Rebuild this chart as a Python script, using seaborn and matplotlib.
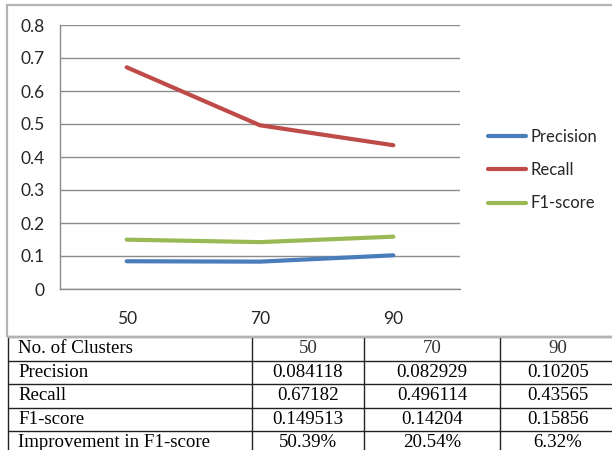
import matplotlib
matplotlib.use("Agg")
import matplotlib.pyplot as plt
from matplotlib.patches import Rectangle
from matplotlib.ticker import FixedLocator, FuncFormatter
import pandas as pd
import seaborn as sns

# ---- data ----
clusters = [50, 70, 90]
precision = [0.084118, 0.082929, 0.10205]
recall = [0.67182, 0.496114, 0.43565]
f1_score = [0.149513, 0.14204, 0.15856]
improvement = ["50.39%", "20.54%", "6.32%"]
metric_names = ["Precision", "Recall", "F1-score"]
metric_colors = ["#4A7EBB", "#BE4B48", "#98B954"]
y_ticks = [0, 0.1, 0.2, 0.3, 0.4, 0.5, 0.6, 0.7, 0.8]

df = pd.DataFrame({
    "clusters": clusters * 3,
    "value": precision + recall + f1_score,
    "metric": [m for m in metric_names for _ in clusters],
})

sns.set_style("white")
plt.rcParams["font.family"] = ["Lato", "DejaVu Sans"]

W, H = 612, 450
fig = plt.figure(figsize=(W / 100, H / 100), dpi=100)
fig.patch.set_facecolor("white")

def fx(px):
    return px / W

def fy(py):
    return 1 - py / H

# chart frame
fig.patches.append(Rectangle((fx(7), fy(337)), fx(620) - fx(7), fy(4.5) - fy(337),
                             transform=fig.transFigure, fill=False,
                             edgecolor="#b3b3b3", linewidth=1.6, zorder=0))

# ---- line chart ----
ax = fig.add_axes([fx(60), fy(289), fx(460) - fx(60), fy(25) - fy(289)])
sns.lineplot(data=df, x="clusters", y="value", hue="metric",
             hue_order=metric_names, palette=metric_colors,
             linewidth=3.0, legend=False, ax=ax)
for ln in ax.get_lines():
    ln.set_solid_capstyle("round")
    ln.set_solid_joinstyle("round")

ax.set_xlim(40, 100)
ax.set_ylim(0, 0.8)
ax.set_xlabel("")
ax.set_ylabel("")
ax.set_yticks(y_ticks)
ax.yaxis.set_major_formatter(FuncFormatter(lambda v, p: "0" if v == 0 else f"{v:.1f}"))
ax.grid(axis="y", color="#8c8c8c", linewidth=1.0)
ax.grid(axis="x", visible=False)
ax.set_axisbelow(True)

# category boundaries carry tick marks, labels sit between them
ax.xaxis.set_major_locator(FixedLocator([40, 60, 80, 100]))
ax.xaxis.set_major_formatter(FuncFormatter(lambda v, p: ""))
ax.xaxis.set_minor_locator(FixedLocator(clusters))
ax.xaxis.set_minor_formatter(FuncFormatter(lambda v, p: f"{int(v)}"))
ax.tick_params(axis="x", which="major", length=5, width=1, color="#8c8c8c", direction="out")
ax.tick_params(axis="x", which="minor", length=0, pad=16, labelsize=12.5)
ax.tick_params(axis="y", which="major", length=5, width=1, color="#8c8c8c",
               direction="out", pad=6, labelsize=12.5)

for s in ["top", "right"]:
    ax.spines[s].set_visible(False)
for s in ["left", "bottom"]:
    ax.spines[s].set_color("#8c8c8c")
    ax.spines[s].set_linewidth(1.0)

handles = ax.get_lines()[:3]
leg = fig.legend(handles, metric_names, loc="center left",
                 bbox_to_anchor=(fx(488), fy(170)), bbox_transform=fig.transFigure,
                 frameon=False, fontsize=12, handlelength=2.25, handletextpad=0.3,
                 labelspacing=1.05, borderpad=0, borderaxespad=0)

# ---- results table ----
tab = fig.add_axes([0, 0, 1, 1], facecolor="none")
tab.set_xlim(0, W)
tab.set_ylim(H, 0)
tab.axis("off")

col_edges = [8, 252, 364, 500, 616]
row_top = 337
row_h = 23.5
rows = [["No. of Clusters"] + [str(c) for c in clusters],
        ["Precision"] + [f"{v:g}" for v in precision],
        ["Recall"] + [f"{v:g}" for v in recall],
        ["F1-score"] + [f"{v:g}" for v in f1_score],
        ["Improvement in F1-score"] + improvement]
rows[1][1] = "0.084118"

n_rows = len(rows)
for i in range(n_rows + 1):
    y = row_top + i * row_h
    tab.plot([col_edges[0], col_edges[-1]], [y, y], color="#222222",
             linewidth=1.6 if i == 0 else 1.0, solid_capstyle="butt")
for x in col_edges:
    tab.plot([x, x], [row_top, row_top + n_rows * row_h], color="#222222",
             linewidth=1.0, solid_capstyle="butt")

for i, r in enumerate(rows):
    yc = row_top + (i + 0.5) * row_h
    tab.text(col_edges[0] + 10, yc, r[0], ha="left", va="center",
             family="Liberation Serif", fontsize=13.6, color="black")
    for j in range(1, 4):
        xc = (col_edges[j] + col_edges[j + 1]) / 2
        tab.text(xc, yc, r[j], ha="center", va="center",
                 family="Liberation Serif", fontsize=13.6,
                 color="#333333" if i == 0 else "black")

fig.savefig("out.png", dpi=100)
